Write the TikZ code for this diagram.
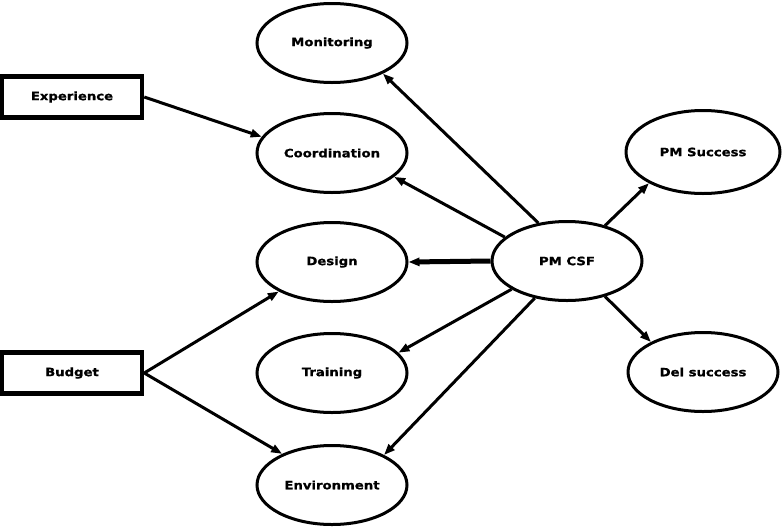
\documentclass[tikz,border=0pt]{standalone}
\usepackage{fontspec}
\newfontfamily\lblfont{DejaVu Sans}[FakeStretch=1.15,BoldFeatures={FakeBold=0.9}]
\usetikzlibrary{shapes.geometric,arrows.meta}
\begin{document}
\begin{tikzpicture}[x=1pt,y=-1pt,
  lbl/.style={font=\lblfont\bfseries\fontsize{11.5}{13}\selectfont},
  ell/.style={ellipse,draw,line width=3pt,minimum width=150pt,minimum height=79pt,inner sep=0pt,lbl},
  box/.style={rectangle,draw,line width=4.5pt,minimum width=140pt,minimum height=41pt,inner sep=0pt,lbl},
  arr/.style={line width=3pt,-{Triangle[length=11pt,width=8pt]}}]
\useasboundingbox (0,0) rectangle (784,528);
\node[ell] (mon) at (332,43) {Monitoring};
\node[ell] (coo) at (332,153) {Coordination};
\node[ell] (des) at (332,262) {Design};
\node[ell] (tra) at (332,373) {Training};
\node[ell] (env) at (332,485) {Environment};
\node[ell] (pm) at (567,261) {PM CSF};
\node[ell,minimum width=154pt,minimum height=83pt] (pms) at (703,152) {PM Success};
\node[ell] (dels) at (703,372) {Del success};
\node[box] (exp) at (72,97) {Experience};
\node[box] (bud) at (72,373) {Budget};
\draw[arr] (pm.127) -- (mon.-31);
\draw[arr] (pm.159) -- (coo.-21);
\draw[arr,line width=5pt] (pm.180) -- (des.0);
\draw[arr] (pm.207) -- (tra.17);
\draw[arr] (pm.229) -- (env.30);
\draw[arr] (pm.43) -- (pms.210);
\draw[arr] (pm.-43) -- (dels.150);
\draw[arr] (exp.east) -- (coo.167);
\draw[arr] (bud.east) -- (des.209);
\draw[arr] (bud.east) -- (env.148);
\end{tikzpicture}
\end{document}
